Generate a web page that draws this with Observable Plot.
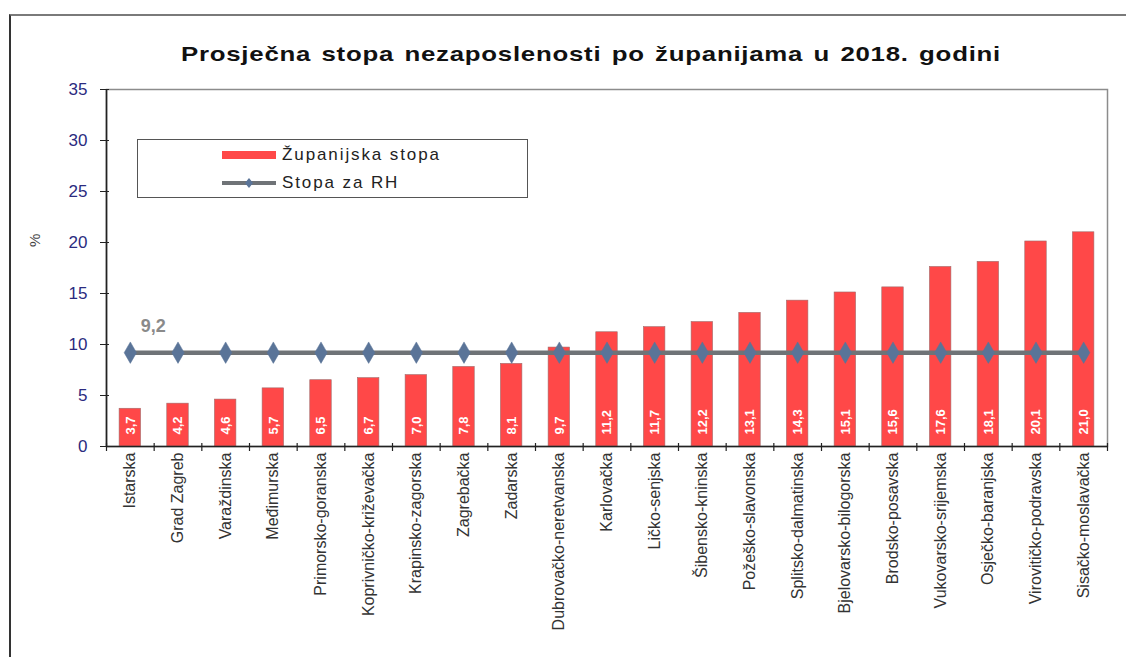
<!DOCTYPE html>
<html>
<head>
<meta charset="utf-8">
<script src="https://cdn.jsdelivr.net/npm/d3@7"></script>
<script src="https://cdn.jsdelivr.net/npm/@observablehq/plot@0.6"></script>
<style>
  html, body { margin: 0; padding: 0; background: #fff; }
  #wrap { position: relative; width: 1126px; height: 657px; overflow: hidden; font-family: "Liberation Sans", Arial, sans-serif; }
  #chart { position: absolute; left: 0; top: 0; }
  #frame { position: absolute; left: 9px; top: 14px; right: -5px; bottom: -5px; border-top: 2px solid #7a7a7a; border-left: 2px solid #333; }
  #title { position: absolute; left: 181px; top: 42px; white-space: nowrap; font-weight: bold; font-size: 21px; color: #111; letter-spacing: 0.6px; word-spacing: 2px; transform-origin: 0 0; }
  #legend { position: absolute; left: 137px; top: 139px; width: 389px; height: 57px; border: 1.5px solid #555; background: #fff; }
  .row { position: absolute; left: 84px; display: flex; align-items: center; font-size: 17px; color: #222; letter-spacing: 1.9px; }
  .row svg { margin-right: 6px; }
</style>
</head>
<body>
<div id="wrap">
  <div id="frame"></div>
  <div id="chart"></div>
  <div id="title"></div>
  <div id="legend">
    <div class="row" id="row1" style="top:5px"></div>
    <div class="row" id="row2" style="top:33px"></div>
  </div>
</div>
<script>
const title = "Prosječna stopa nezaposlenosti po županijama u 2018. godini";
const categories = ["Istarska", "Grad Zagreb", "Varaždinska", "Međimurska", "Primorsko-goranska", "Koprivničko-križevačka", "Krapinsko-zagorska", "Zagrebačka", "Zadarska", "Dubrovačko-neretvanska", "Karlovačka", "Ličko-senjska", "Šibensko-kninska", "Požeško-slavonska", "Splitsko-dalmatinska", "Bjelovarsko-bilogorska", "Brodsko-posavska", "Vukovarsko-srijemska", "Osječko-baranjska", "Virovitičko-podravska", "Sisačko-moslavačka"];
const values = [3.7, 4.2, 4.6, 5.7, 6.5, 6.7, 7.0, 7.8, 8.1, 9.7, 11.2, 11.7, 12.2, 13.1, 14.3, 15.1, 15.6, 17.6, 18.1, 20.1, 21.0];
const rhRate = 9.2;
const yTicks = [0, 5, 10, 15, 20, 25, 30, 35];
const seriesNames = ["Županijska stopa", "Stopa za RH"];
const yLabel = "%";

const fmt = v => v.toFixed(1).replace(".", ",");
const data = categories.map((name, i) => ({name, value: values[i], rh: rhRate}));

const W = 1126, H = 657, ML = 106, MR = 19, MT = 89, MB = 211;
const step = (W - ML - MR) / categories.length;
const barColor = "#ff4848";
const lineColor = "#6f7377";
const markerColor = "#5a7498";

const chart = Plot.plot({
  width: W, height: H,
  marginLeft: ML, marginRight: MR, marginTop: MT, marginBottom: MB,
  style: {fontFamily: "'Liberation Sans', Arial, sans-serif", background: "transparent", overflow: "visible"},
  x: {domain: categories, paddingInner: 0.55, paddingOuter: 0.275, round: false, label: null},
  y: {domain: [0, 35], label: null},
  marks: [
    Plot.frame({stroke: "#8c8c8c", strokeWidth: 1.5}),
    Plot.barY(data, {x: "name", y: "value", fill: barColor, stroke: "#a06a6a", strokeWidth: 0.6}),
    Plot.lineY(data, {x: "name", y: "rh", stroke: lineColor, strokeWidth: 4.5}),
    Plot.dot(data, {x: "name", y: "rh", symbol: "diamond", r: 6.5, fill: markerColor, stroke: markerColor, strokeWidth: 0.5}),
    Plot.text(data, {x: "name", y: 0, text: d => fmt(d.value), rotate: -90, textAnchor: "start", dy: -12, fill: "white", fontWeight: "bold", fontSize: 13, letterSpacing: 0.6}),
    Plot.text([rhRate], {x: () => categories[0], y: d => d, text: d => fmt(d), dx: 23, dy: -26, fill: "#8a8a8a", fontWeight: "bold", fontSize: 18, letterSpacing: 2}),
    Plot.ruleY([0], {stroke: "#222", strokeWidth: 1.6}),
    Plot.ruleX([categories[0]], {dx: -step / 2, stroke: "#222", strokeWidth: 1.6}),
    Plot.ruleX(categories, {x: d => d, dx: -step / 2, y1: 0, y2: 0, insetTop: -3, insetBottom: -5, stroke: "#222", strokeWidth: 1.2}),
    Plot.ruleX([categories[categories.length - 1]], {x: d => d, dx: step / 2, y1: 0, y2: 0, insetTop: -3, insetBottom: -5, stroke: "#222", strokeWidth: 1.2}),
    Plot.axisY({ticks: yTicks, tickSize: 9, dx: 3, tickPadding: 13, fontSize: 17, letterSpacing: 2.5, fill: "#2b2b80", stroke: "#222", label: null}),
    Plot.text([yLabel], {frameAnchor: "left", text: d => d, dx: -71, dy: -21, rotate: -90, fontSize: 15, fill: "#444"}),
    Plot.axisX({tickSize: 0, tickPadding: 6, tickRotate: -90, fontSize: 16, fill: "#333", label: null, letterSpacing: 2})
  ]
});
document.getElementById("chart").appendChild(chart);
const titleEl = document.getElementById("title");
titleEl.textContent = title;
const tw = titleEl.getBoundingClientRect().width;
titleEl.style.transform = `scaleX(${820 / tw})`;

const sw1 = `<svg width="54" height="12"><rect x="0" y="2" width="54" height="8" fill="${barColor}"/></svg>`;
const sw2 = `<svg width="54" height="14"><line x1="0" y1="7" x2="54" y2="7" stroke="${lineColor}" stroke-width="4"/><path d="M27,2 L31,7 L27,12 L23,7 Z" fill="${markerColor}"/></svg>`;
document.getElementById("row1").innerHTML = sw1 + `<span>${seriesNames[0]}</span>`;
document.getElementById("row2").innerHTML = sw2 + `<span>${seriesNames[1]}</span>`;
</script>
</body>
</html>
